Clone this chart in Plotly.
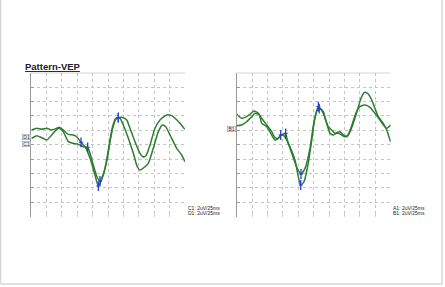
import plotly.graph_objects as go

W, H = 445, 287

# ---- data (time in ms, amplitude in uV; 2uV/div, 25ms/div) ----
t_C1 = [1.1, 9.3, 17.4, 25.5, 33.6, 41.7, 45.9, 52.4, 60.6, 68.7, 74.2, 81.2, 87.7, 95.8, 103.9, 109.3,
        117.4, 123.4, 128.2, 133.1, 138.0, 141.7, 144.5, 149.8, 158.0, 166.1, 172.6, 177.0, 185.1, 190.4,
        198.5, 206.7, 213.2, 218.7, 225.7, 236.5, 244.6, 250.0]
v_C1 = [2.04, 2.28, 2.14, 2.28, 2.04, 2.28, 2.42, 2.04, 1.44, 1.35, 1.11, 0.33, -0.28, -1.85, -4.21, -5.74,
        -4.21, -1.85, 0.65, 2.74, 3.71, 3.75, 3.67, 2.74, 0.89, -1.19, -3.06, -3.51, -3.06, -2.58,
        -0.5, 1.81, 2.74, 2.5, 1.35, -0.5, -1.43, -2.36]

t_D1 = [1.1, 9.3, 17.4, 25.5, 33.6, 41.7, 45.9, 52.4, 60.6, 68.7, 76.8, 84.9, 92.0, 95.8, 101.1, 106.6,
        112.0, 117.4, 123.4, 128.2, 133.1, 138.0, 141.7, 149.8, 155.4, 160.7, 168.8, 177.0, 181.4, 186.2,
        193.2, 201.3, 209.4, 220.3, 228.4, 233.8, 241.9, 248.4, 250.0]
v_D1 = [0.89, 1.25, 0.97, 0.65, 1.35, 2.14, 2.28, 1.81, 0.42, 0.19, 0.06, -0.28, -0.36, -1.19, -2.82, -4.35,
        -5.04, -4.07, -2.13, 0.38, 2.46, 3.57, 3.75, 3.75, 3.43, 2.28, 0.42, -1.19, -1.67, -1.57,
        -0.04, 2.28, 3.43, 4.13, 4.03, 3.67, 2.97, 2.28, 2.18]

t_A1 = [0.0, 8.1, 16.2, 21.6, 28.1, 35.1, 40.6, 48.7, 56.8, 62.2, 67.5, 71.4, 75.6, 81.2, 86.5, 94.6,
        99.5, 103.9, 109.3, 116.2, 122.2, 127.1, 132.5, 140.6, 146.1, 151.5, 156.8, 162.3, 167.7, 173.1,
        178.6, 183.9, 192.0, 197.4, 202.9, 208.3, 213.6, 219.1, 224.4, 229.9, 238.0, 243.5, 248.9, 250.0]
v_A1 = [4.22, 3.67, 3.89, 4.22, 4.68, 4.36, 3.67, 2.74, 1.81, 0.97, 0.89, 1.35, 1.35, 0.65, -0.28, -2.13,
        -4.21, -5.6, -5.14, -2.54, 0.93, 3.85, 5.28, 4.36, 2.97, 1.58, 1.35, 1.67, 1.81, 1.35,
        1.11, 1.76, 3.71, 5.24, 6.67, 7.28, 7.04, 6.21, 5.06, 3.89, 2.97, 2.04, 0.65, 0.38]

t_B1 = [0.0, 8.1, 16.2, 24.4, 29.7, 36.7, 40.6, 48.7, 56.8, 62.2, 67.5, 73.1, 79.5, 82.1, 89.3, 97.4,
        104.4, 110.9, 119.0, 125.5, 131.2, 136.9, 140.6, 144.5, 148.7, 154.2, 159.6, 164.9, 170.4, 175.7,
        180.6, 187.1, 193.6, 200.1, 208.3, 216.4, 224.4, 232.5, 238.0, 243.5, 250.0]
v_B1 = [2.64, 2.74, 3.19, 3.89, 4.36, 4.13, 2.97, 2.5, 1.35, 0.65, 0.89, 1.35, 1.58, 0.65, -1.19, -3.1,
        -4.07, -3.28, -0.5, 3.15, 4.82, 4.92, 4.58, 3.43, 2.5, 2.04, 1.58, 1.58, 1.35, 1.11,
        1.35, 2.74, 4.4, 5.28, 5.51, 5.19, 4.36, 3.43, 2.74, 2.28, 2.74]

# latency markers
mk_C1_t = [81.2, 109.3, 141.7]; mk_C1_v = [0.33, -5.74, 3.75]
mk_D1_t = [92.0, 112.0, 141.7]; mk_D1_v = [-0.36, -5.04, 3.75]
mk_A1_t = [71.4, 103.9, 132.5]; mk_A1_v = [1.35, -5.6, 5.28]
mk_B1_t = [79.5, 104.4, 134.0]; mk_B1_v = [1.58, -4.07, 5.0]

scale_left = ["C1: 2uV/25ms", "D1: 2uV/25ms"]
scale_right = ["A1: 2uV/25ms", "B1: 2uV/25ms"]

GREEN = "#2f7d32"
BLUE = "#2a3fd0"
GRID = "#c4c4c4"
AX = "#9a9a9a"

def px(x):
    return x / W

def py(y):
    return 1 - y / H

fig = go.Figure()

panels = [
    ("x", "y", [(t_C1, v_C1, mk_C1_t, mk_C1_v), (t_D1, v_D1, mk_D1_t, mk_D1_v)]),
    ("x2", "y2", [(t_A1, v_A1, mk_A1_t, mk_A1_v), (t_B1, v_B1, mk_B1_t, mk_B1_v)]),
]
for xa, ya, curves in panels:
    for t, v, mt, mv in curves:
        fig.add_trace(go.Scatter(x=t, y=v, mode="lines", xaxis=xa, yaxis=ya,
                                 line=dict(color=GREEN, width=1.5, shape="spline", smoothing=0.6),
                                 showlegend=False, hoverinfo="skip"))
    for t, v, mt, mv in curves:
        fig.add_trace(go.Scatter(x=mt, y=mv, mode="markers", xaxis=xa, yaxis=ya,
                                 marker=dict(symbol="line-ns", size=7, line=dict(color=BLUE, width=1.3)),
                                 showlegend=False, hoverinfo="skip"))
        fig.add_trace(go.Scatter(x=mt, y=mv, mode="markers", xaxis=xa, yaxis=ya,
                                 marker=dict(symbol="line-ew", size=3, line=dict(color=BLUE, width=1)),
                                 showlegend=False, hoverinfo="skip"))

ytop, ybot = 72.7, 216.7
dom_y = [py(ybot), py(ytop)]
left_dom = [px(31), px(185)]
right_dom = [px(236.7), px(390.7)]

axis_x = dict(range=[0, 250], dtick=25, tick0=0, showgrid=True, gridcolor=GRID, griddash="dot",
              gridwidth=1, zeroline=False, showline=False, showticklabels=False,
              ticks="inside", ticklen=4, tickcolor="#cfcfcf", fixedrange=True)
axis_y = dict(range=[-10, 10], dtick=2, tick0=-10, showgrid=True, gridcolor=GRID, griddash="dot",
              gridwidth=1, zeroline=False, showline=True, linecolor=AX, linewidth=1,
              showticklabels=False, ticks="inside", ticklen=3, tickcolor=AX, fixedrange=True)

fig.update_layout(
    width=W, height=H, margin=dict(l=0, r=0, t=0, b=0),
    paper_bgcolor="white", plot_bgcolor="white",
    xaxis=dict(axis_x, domain=left_dom, anchor="y"),
    yaxis=dict(axis_y, domain=dom_y, anchor="x"),
    xaxis2=dict(axis_x, domain=right_dom, anchor="y2"),
    yaxis2=dict(axis_y, domain=dom_y, anchor="x2"),
    font=dict(family="Liberation Sans, Arial, sans-serif", color="#222"),
)

shapes = []
for xa, ya in [("x", "y"), ("x2", "y2")]:
    shapes.append(dict(type="line", xref=xa, yref=ya, x0=0, x1=250, y0=10, y1=10,
                       line=dict(color=AX, width=1)))
shapes.append(dict(type="line", xref="paper", yref="paper", x0=px(0.5), x1=px(0.5), y0=py(284), y1=1,
                   line=dict(color="#d6d6d6", width=1.5)))
shapes.append(dict(type="line", xref="paper", yref="paper", x0=px(442), x1=px(442), y0=py(284), y1=1,
                   line=dict(color="#d6d6d6", width=1.5)))
shapes.append(dict(type="line", xref="paper", yref="paper", x0=px(0.5), x1=px(442), y0=py(284), y1=py(284),
                   line=dict(color="#d6d6d6", width=1.5)))
fig.update_layout(shapes=shapes)

ann = []
ann.append(dict(text="<b><u>Pattern-VEP</u></b>", xref="paper", yref="paper", x=px(23), y=py(66),
                xanchor="left", yanchor="middle", showarrow=False, font=dict(size=9.5, color="#222")))
for i, s in enumerate(scale_left):
    ann.append(dict(text=s, xref="paper", yref="paper", x=px(186), y=py(208 + 5.3 * i),
                    xanchor="left", yanchor="middle", showarrow=False, font=dict(size=5, color="#222")))
for i, s in enumerate(scale_right):
    ann.append(dict(text=s, xref="paper", yref="paper", x=px(391), y=py(208 + 5.3 * i),
                    xanchor="left", yanchor="middle", showarrow=False, font=dict(size=5, color="#222")))
for lbl, x, y in [("D1", 26.5, 137.3), ("C1", 26.5, 144.3), ("B1", 231, 129)]:
    ann.append(dict(text=lbl, xref="paper", yref="paper", x=px(x), y=py(y),
                    xanchor="center", yanchor="middle", showarrow=False,
                    width=8, height=5, align="center", valign="middle",
                    font=dict(size=5, color="#333"), bgcolor="#f0f0f0",
                    bordercolor="#999", borderwidth=0.6, borderpad=0))
fig.update_layout(annotations=ann)

fig.write_html("out.html")
